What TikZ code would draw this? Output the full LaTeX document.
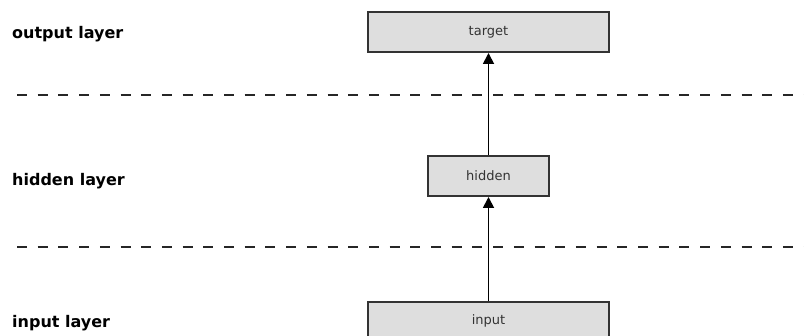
\documentclass[tikz,border=0pt]{standalone}
\usepackage{fontspec}
\setmainfont{DejaVu Sans}
\usetikzlibrary{arrows.meta}
\begin{document}
\begin{tikzpicture}[x=1pt,y=-1pt,
  layerbox/.style={draw=black!80,fill=black!13,line width=2pt,inner sep=0pt,text=black!80,font=\fontsize{13}{15}\selectfont},
  layerlabel/.style={anchor=west,inner sep=0pt,font=\bfseries\fontsize{16}{18}\selectfont},
  sep/.style={draw=black!85,line width=1.8pt,dash pattern=on 10pt off 10.7pt},
  conn/.style={draw=black,line width=1.8pt,-{Triangle[length=11pt,width=11pt]}}]
\useasboundingbox (0,0) rectangle (804,336);
\clip (0,0) rectangle (804,336);
\node[layerbox,minimum width=241pt,minimum height=40pt] (target) at (488.5,32) {target};
\node[layerbox,minimum width=121pt,minimum height=40pt] (hidden) at (488.5,176) {hidden};
\node[layerbox,minimum width=241pt,minimum height=40pt] (input) at (488.5,322) {};
\node[text=black!80,font=\fontsize{13}{15}\selectfont] (inputtext) at (488.5,321) {input};
\node[layerlabel] (lo) at (12,34) {output layer};
\node[layerlabel] (lh) at (12,181) {hidden layer};
\node[layerlabel] (li) at (12,323) {input layer};
\coordinate (d1a) at (17,95);
\coordinate (d1b) at (804,95);
\coordinate (d2a) at (17,247);
\coordinate (d2b) at (804,247);
\draw[sep] (d1a) -- (d1b);
\draw[sep] (d2a) -- (d2b);
\draw[conn] (input.north) -- (hidden.south);
\draw[conn] (hidden.north) -- (target.south);
\end{tikzpicture}
\end{document}
